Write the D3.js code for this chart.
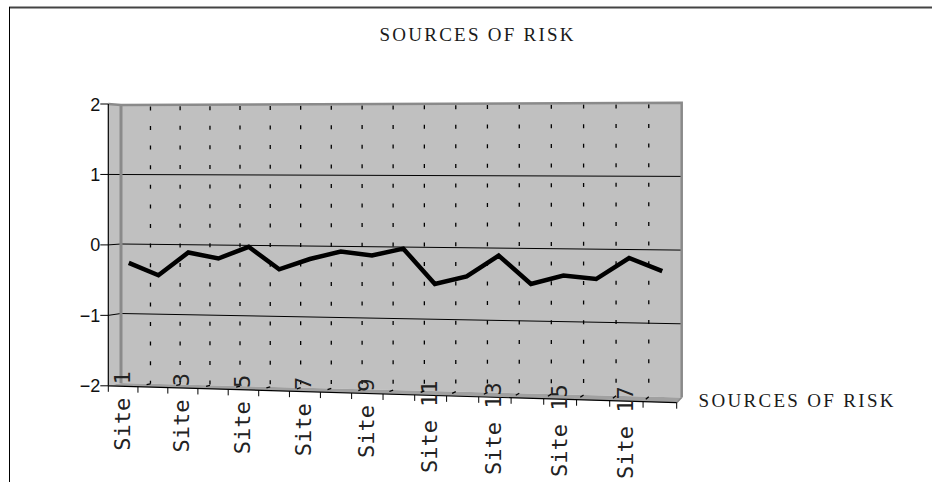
<!DOCTYPE html>
<html lang="en">
<head>
<meta charset="UTF-8">
<title>Sources of risk</title>
<script src="https://d3js.org/d3.v7.min.js"></script>
<style>
    body { margin: 0; background: #fff; }
    svg { display: block; }
    .serif { font-family: "Liberation Serif", "Times New Roman", serif; font-size: 19px; fill: #1a1a1a; }
    .ytick { font-family: "Liberation Sans", Arial, sans-serif; font-size: 18px; fill: #111; }
    .xtick { font-family: "DejaVu Sans Mono", monospace; font-size: 22px; fill: #222; }
</style>
</head>
<body>
<div id="chart"></div>
<script>
// data
const categories = ["Site 1", "Site 2", "Site 3", "Site 4", "Site 5", "Site 6",
    "Site 7", "Site 8", "Site 9", "Site 10", "Site 11", "Site 12",
    "Site 13", "Site 14", "Site 15", "Site 16", "Site 17", "Site 18"];
const values = [-0.26, -0.43, -0.1, -0.18, -0.01, -0.32, -0.17, -0.06, -0.11,
    -0.01, -0.49, -0.38, -0.09, -0.47, -0.35, -0.39, -0.1, -0.27];
const yTicks = [2, 1, 0, -1, -2];
const gridValues = [1, 0, -1];
const title = "SOURCES OF RISK";
const xTitle = "SOURCES OF RISK";

const width = 932, height = 482;

const svg = d3.select("#chart").append("svg")
    .attr("width", width)
    .attr("height", height);

// unit square -> screen quad (perspective), corners tl, tr, br, bl
function makeQuad(p0, p1, p2, p3) {
    const dx1 = p1[0] - p2[0], dx2 = p3[0] - p2[0], dx3 = p0[0] - p1[0] + p2[0] - p3[0];
    const dy1 = p1[1] - p2[1], dy2 = p3[1] - p2[1], dy3 = p0[1] - p1[1] + p2[1] - p3[1];
    const det = dx1 * dy2 - dx2 * dy1;
    const g = (dx3 * dy2 - dx2 * dy3) / det;
    const h = (dx1 * dy3 - dx3 * dy1) / det;
    const a = p1[0] - p0[0] + g * p1[0], b = p3[0] - p0[0] + h * p3[0], c = p0[0];
    const d = p1[1] - p0[1] + g * p1[1], e = p3[1] - p0[1] + h * p3[1], f = p0[1];
    return (u, v) => {
        const w = g * u + h * v + 1;
        return [(a * u + b * v + c) / w, (d * u + e * v + f) / w];
    };
}

const back = makeQuad([121, 105], [681.7, 102.7], [681.7, 397.5], [121, 383]);
const front = makeQuad([108.3, 104], [676.7, 101.5], [676.7, 402.7], [108.3, 385.8]);
const mid = (u, v) => {
    const p = front(u, v), q = back(u, v);
    return [p[0] + (q[0] - p[0]) * 0.45, p[1] + (q[1] - p[1]) * 0.45];
};

const xBand = d3.scaleBand().domain(categories).range([0, 1]).padding(0);
const uEdge = d3.scaleLinear().domain([0, categories.length]).range([0, 1]);
const vScale = d3.scaleLinear().domain([-2, 2]).range([1, 0]);
const edges = d3.range(categories.length + 1);

const seg = d3.line();

// frame
svg.append("line").attr("x1", 9).attr("x2", 932).attr("y1", 7.5).attr("y2", 7.5)
    .attr("stroke", "#444").attr("stroke-width", 2);
svg.append("line").attr("x1", 9.5).attr("x2", 9.5).attr("y1", 7).attr("y2", height)
    .attr("stroke", "#000").attr("stroke-width", 1);

// walls and floor
svg.append("path")
    .attr("d", seg([back(0, 0), back(1, 0), back(1, 1), back(0, 1)]) + "Z")
    .attr("fill", "#c0c0c0");
svg.append("path")
    .attr("d", seg([front(0, 0), back(0, 0), back(0, 1), front(0, 1)]) + "Z")
    .attr("fill", "#c0c0c0");
svg.append("path")
    .attr("d", seg([back(0, 1), back(1, 1), front(1, 1), front(0, 1)]) + "Z")
    .attr("fill", "#a0a0a0");

// vertical dashed gridlines, wall and floor
const vgrid = svg.append("g").attr("stroke", "#000").attr("stroke-width", 1.3)
    .attr("stroke-dasharray", "4 15.6").attr("fill", "none");
edges.slice(1, -1).forEach(k => {
    const u = uEdge(k);
    vgrid.append("path").attr("d", seg([back(u, 0), back(u, 1)]))
        .attr("stroke-dashoffset", -1.5);
    vgrid.append("path").attr("d", seg([back(u, 1), front(u, 1)]));
});

// horizontal gridlines
gridValues.forEach(val => {
    const v = vScale(val);
    svg.append("path")
        .attr("d", seg([front(0, v), back(0, v), back(1, v)]))
        .attr("stroke", "#000").attr("stroke-width", 1).attr("fill", "none");
});

// wall edges
svg.append("path")
    .attr("d", seg([front(0, 0), back(0, 0), back(1, 0), back(1, 1)]))
    .attr("stroke", "#8a8a8a").attr("stroke-width", 2.5).attr("fill", "none");
svg.append("path")
    .attr("d", seg([back(0, 0), back(0, 1)]))
    .attr("stroke", "#8a8a8a").attr("stroke-width", 3).attr("fill", "none");
svg.append("path")
    .attr("d", seg([back(1, 1), front(1, 1)]))
    .attr("stroke", "#8a8a8a").attr("stroke-width", 1.5).attr("fill", "none");

// value axis
svg.append("path").attr("d", seg([front(0, 0), front(0, 1)]))
    .attr("stroke", "#000").attr("stroke-width", 1.2);
yTicks.forEach(val => {
    const p = front(0, vScale(val));
    svg.append("line").attr("x1", p[0] - 8).attr("x2", p[0]).attr("y1", p[1]).attr("y2", p[1])
        .attr("stroke", "#000").attr("stroke-width", 1);
    svg.append("text").attr("class", "ytick")
        .attr("x", p[0] - 8).attr("y", p[1] + 6.5)
        .attr("text-anchor", "end")
        .text(val < 0 ? "\u2212" + Math.abs(val) : String(val));
});

// category axis
svg.append("path").attr("d", seg([front(0, 1), front(1, 1)]))
    .attr("stroke", "#000").attr("stroke-width", 1.2);
edges.forEach(k => {
    const p = front(uEdge(k), 1);
    svg.append("line").attr("x1", p[0]).attr("x2", p[0]).attr("y1", p[1]).attr("y2", p[1] + 6)
        .attr("stroke", "#000").attr("stroke-width", 1);
});
categories.forEach((cat, i) => {
    if (i % 2 !== 0) return;
    const p = front(xBand(cat) + xBand.bandwidth() / 2, 1);
    svg.append("text").attr("class", "xtick")
        .attr("text-anchor", "end")
        .attr("transform", `translate(${p[0] + 6.5},${p[1] - 15}) rotate(-90)`)
        .text(cat);
});

// series
svg.append("path")
    .datum(values)
    .attr("d", d3.line()
        .x((d, i) => mid(xBand(categories[i]) + xBand.bandwidth() / 2, vScale(d))[0])
        .y((d, i) => mid(xBand(categories[i]) + xBand.bandwidth() / 2, vScale(d))[1]))
    .attr("fill", "none")
    .attr("stroke", "#000")
    .attr("stroke-width", 4.5)
    .attr("stroke-linejoin", "miter");

// titles
svg.append("text").attr("class", "serif")
    .attr("x", 379.5).attr("y", 41)
    .attr("textLength", 194).attr("lengthAdjust", "spacing")
    .text(title);
svg.append("text").attr("class", "serif")
    .attr("x", 698.5).attr("y", 406.5)
    .attr("textLength", 195).attr("lengthAdjust", "spacing")
    .text(xTitle);
</script>
</body>
</html>
